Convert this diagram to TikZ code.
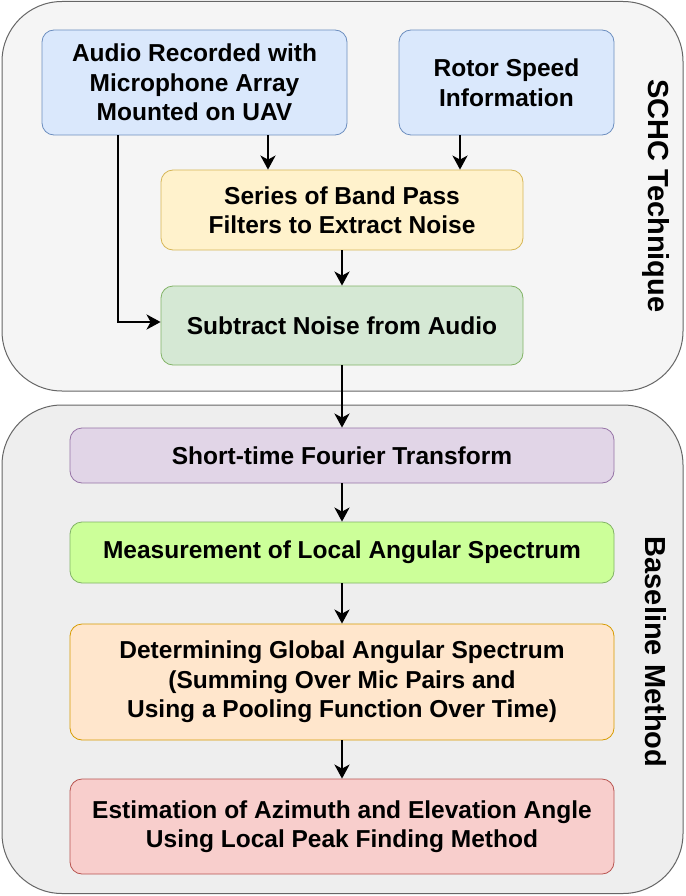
\documentclass[tikz,border=0pt]{standalone}
\usepackage{fontspec}
\setmainfont{Liberation Sans}
\usetikzlibrary{arrows.meta}
\definecolor{contA}{HTML}{F5F5F5}
\definecolor{contB}{HTML}{EEEEEE}
\definecolor{contS}{HTML}{666666}
\definecolor{blueF}{HTML}{DAE8FC}
\definecolor{blueS}{HTML}{6C8EBF}
\definecolor{yelF}{HTML}{FFF2CC}
\definecolor{yelS}{HTML}{D6B656}
\definecolor{grnF}{HTML}{D5E8D4}
\definecolor{grnS}{HTML}{82B366}
\definecolor{purF}{HTML}{E1D5E7}
\definecolor{purS}{HTML}{9673A6}
\definecolor{limeF}{HTML}{CCFF99}
\definecolor{limeS}{HTML}{82B366}
\definecolor{orF}{HTML}{FFE6CC}
\definecolor{orS}{HTML}{D79B00}
\definecolor{redF}{HTML}{F8CECC}
\definecolor{redS}{HTML}{B85450}
\tikzset{
  container/.style={draw=contS, line width=1pt, rounded corners=60pt},
  proc/.style={rounded corners=12pt, line width=0.8pt, align=center, inner sep=0pt,
    font=\fontsize{24.5}{29.5}\selectfont\bfseries, text=black},
  flow/.style={-{Stealth[length=14pt,width=15pt,inset=4pt]}, line width=2.5pt, black},
  sidelabel/.style={rotate=-90, font=\fontsize{29}{32}\selectfont\bfseries}
}
\begin{document}
\begin{tikzpicture}[x=1pt,y=-1pt]
\useasboundingbox (0,0) rectangle (685,896);
\fill[white] (0,0) rectangle (685,896);
\draw[container, fill=contA] (2,1.5) rectangle (683,391);
\draw[container, fill=contB] (2,405) rectangle (683,893.5);
\node[sidelabel] (schc) at (656,196) {SCHC Technique};
\node[sidelabel] (base) at (656,652) {Baseline Method};

\node[proc, draw=blueS, fill=blueF, minimum width=305pt, minimum height=105pt] (audio) at (194.5,82.5) {Audio Recorded with\\Microphone Array\\Mounted on UAV};
\node[proc, draw=blueS, fill=blueF, minimum width=215pt, minimum height=105pt] (rotor) at (506.5,82.5) {Rotor Speed\\Information};
\node[proc, draw=yelS, fill=yelF, minimum width=362pt, minimum height=80pt] (bpf) at (342,210) {Series of Band Pass\\Filters to Extract Noise};
\node[proc, draw=grnS, fill=grnF, minimum width=362pt, minimum height=79pt] (sub) at (342,325.5) {Subtract Noise from Audio};

\node[proc, draw=purS, fill=purF, minimum width=544pt, minimum height=55pt] (stft) at (342,455.5) {Short-time Fourier Transform};
\node[proc, draw=limeS, fill=limeF, minimum width=544pt, minimum height=61pt] (las) at (342,552.5) {Measurement of Local Angular Spectrum};
\node[proc, draw=orS, fill=orF, minimum width=544pt, minimum height=116pt] (gas) at (342,682) {Determining Global Angular Spectrum\\(Summing Over Mic Pairs and\\Using a Pooling Function Over Time)};
\node[proc, draw=redS, fill=redF, minimum width=544pt, minimum height=95pt] (est) at (342,826.5) {Estimation of Azimuth and Elevation Angle\\Using Local Peak Finding Method};

\coordinate (corner) at (118,322);
\draw[flow] (audio.south -| 268,0) -- (bpf.north -| 268,0);
\draw[flow] (rotor.south -| 460,0) -- (bpf.north -| 460,0);
\draw[flow] (bpf) -- (sub);
\draw[flow] (audio.south -| corner) -- (corner) -- (sub.west |- corner);
\draw[flow] (sub) -- (stft);
\draw[flow] (stft) -- (las);
\draw[flow] (las) -- (gas);
\draw[flow] (gas) -- (est);
\end{tikzpicture}
\end{document}
